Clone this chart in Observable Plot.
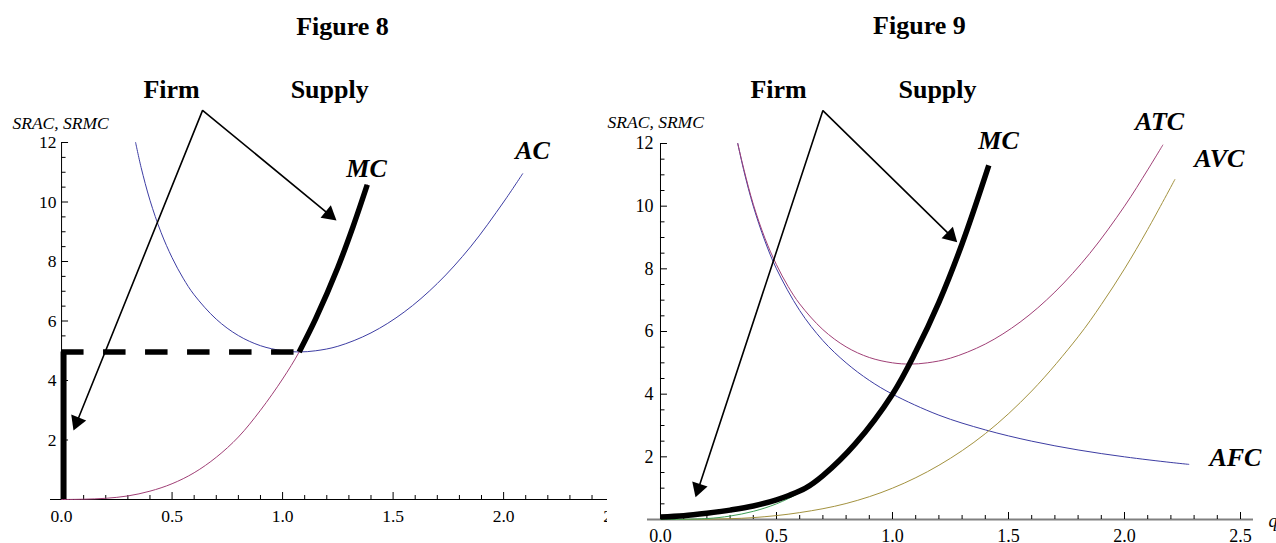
<!DOCTYPE html>
<html>
<head>
<meta charset="utf-8">
<script src="https://cdn.jsdelivr.net/npm/d3@7"></script>
<script src="https://cdn.jsdelivr.net/npm/@observablehq/plot@0.6"></script>
<style>
  html, body { margin: 0; padding: 0; background: #fff; }
  #wrap { position: relative; width: 1276px; height: 543px; overflow: hidden; background: #fff; }
  .panel { position: absolute; top: 0; }
</style>
</head>
<body>
<div id="wrap">
  <div id="p8" class="panel" style="left:0px;width:607px"></div>
  <div id="p9" class="panel" style="left:607px;width:669px"></div>
</div>
<script>
// ---------------- Figure 8 data ----------------
const ac8Q = [0.335, 0.36, 0.4, 0.45, 0.5, 0.55, 0.6, 0.7, 0.8, 0.9, 1.0, 1.075, 1.15, 1.25, 1.4, 1.55, 1.7, 1.85, 2.0, 2.086];
const ac8V = [12.0, 11.16, 10.06, 8.98, 8.13, 7.44, 6.88, 6.06, 5.51, 5.17, 5.0, 4.96, 5.0, 5.15, 5.6, 6.3, 7.26, 8.49, 10.0, 10.95];
const mc8Q = [0, 0.1, 0.2, 0.3, 0.4, 0.5, 0.6, 0.7, 0.8, 0.9, 1.0, 1.075, 1.15, 1.25, 1.32, 1.383];
const mc8V = [0, 0.01, 0.04, 0.12, 0.28, 0.53, 0.9, 1.42, 2.1, 3.0, 4.05, 4.96, 6.08, 7.8, 9.2, 10.58];
const supply8Q = [1.075, 1.15, 1.25, 1.32, 1.383];
const supply8V = [4.96, 6.08, 7.8, 9.2, 10.58];
const shutdownPrice8 = 4.96;   // min AC
const shutdownQ8 = 1.075;
const arrowApex8 = [0.638, 13.08];
const arrowTips8 = [[0.054, 2.32], [1.244, 9.38]];
const titleText8 = ["Figure 8", "Firm", "Supply"];
const titleQ8 = [1.271, 0.498, 1.213];
const titleV8 = [15.63, 13.48, 13.48];
const curveText8 = ["MC", "AC"];
const curveQ8 = [1.38, 2.131];
const curveV8 = [10.84, 11.43];

// ---------------- Figure 9 data ----------------
const atc9Q = [0.333, 0.36, 0.4, 0.45, 0.5, 0.55, 0.6, 0.7, 0.8, 0.9, 1.0, 1.075, 1.15, 1.25, 1.4, 1.55, 1.7, 1.85, 2.0, 2.1, 2.165];
const atc9V = [12.0, 11.16, 10.06, 8.98, 8.13, 7.44, 6.88, 6.06, 5.51, 5.17, 5.0, 4.96, 5.0, 5.15, 5.6, 6.3, 7.26, 8.49, 10.0, 11.16, 11.95];
const afc9Q = [0.333, 0.36, 0.4, 0.45, 0.5, 0.6, 0.7, 0.8, 0.9, 1.0, 1.2, 1.4, 1.6, 1.8, 2.0, 2.2, 2.277];
const afc9V = [12.0, 11.11, 10.0, 8.89, 8.0, 6.67, 5.71, 5.0, 4.44, 4.0, 3.33, 2.86, 2.5, 2.22, 2.0, 1.82, 1.76];
const avc9Q = [0, 0.2, 0.4, 0.6, 0.8, 1.0, 1.2, 1.4, 1.6, 1.8, 1.9, 2.0, 2.1, 2.217];
const avc9V = [0, 0.01, 0.06, 0.22, 0.51, 1.0, 1.73, 2.74, 4.1, 5.83, 6.86, 8.0, 9.26, 10.85];
const mc9Q = [0, 0.2, 0.3, 0.4, 0.5, 0.6, 0.7, 0.8, 0.9, 1.0, 1.1, 1.2, 1.3, 1.41];
const mc9V = [0, 0.03, 0.11, 0.26, 0.5, 0.86, 1.37, 2.05, 2.92, 4.0, 5.32, 6.91, 8.79, 11.21];
const supply9Q = [0, 0.1, 0.2, 0.3, 0.4, 0.5, 0.55, 0.625, 0.7, 0.84, 1.0, 1.1, 1.2, 1.3, 1.415];
const supply9V = [0.08, 0.12, 0.2, 0.3, 0.43, 0.63, 0.76, 1.0, 1.4, 2.42, 4.0, 5.35, 6.93, 8.8, 11.3];
const arrowApex9 = [0.7, 13.05];
const arrowTips9 = [[0.151, 0.71], [1.279, 8.85]];
const titleText9 = ["Figure 9", "Firm", "Supply"];
const titleQ9 = [1.116, 0.509, 1.194];
const titleV9 = [15.48, 13.44, 13.44];
const curveText9 = ["MC", "ATC", "AVC", "AFC"];
const curveQ9 = [1.457, 2.151, 2.409, 2.478];
const curveV9 = [11.81, 12.43, 11.24, 1.72];

// ---------------- ticks ----------------
const xMajor = [0, 0.5, 1, 1.5, 2, 2.5];
const xMajorText = ["0.0", "0.5", "1.0", "1.5", "2.0", "2.5"];
const xMinor = [0.1, 0.2, 0.3, 0.4, 0.6, 0.7, 0.8, 0.9, 1.1, 1.2, 1.3, 1.4, 1.6, 1.7, 1.8, 1.9, 2.1, 2.2, 2.3, 2.4];
const yMajor = [2, 4, 6, 8, 10, 12];
const yMinor = [0.5, 1, 1.5, 2.5, 3, 3.5, 4.5, 5, 5.5, 6.5, 7, 7.5, 8.5, 9, 9.5, 10.5, 11, 11.5];
const yAxisTitle = "SRAC, SRMC";
const xAxisTitle = "q";

// ---------------- colours ----------------
const BLUE = "#3d3da3", MAROON = "#a03f76", OLIVE = "#a3923f", GREEN = "#3d9f55";
const FONT = "'Liberation Serif', 'Times New Roman', serif";

const pts = (q, v) => q.map((d, i) => ({q: d, v: v[i]}));

function axisMarks(o) {
  return [
    Plot.ruleY([0], {stroke: o.xAxisColor, strokeWidth: o.xAxisWidth}),
    Plot.ruleX([0], {y1: 0, y2: 12, stroke: "black", strokeWidth: 1}),
    Plot.ruleX(xMinor, {x: d => d, y1: 0, y2: 0, insetBottom: 4, stroke: "black", strokeWidth: 1}),
    Plot.ruleX(xMajor, {x: d => d, y1: 0, y2: 0, insetBottom: 7, stroke: "black", strokeWidth: 1}),
    Plot.ruleY(yMinor, {y: d => d, x1: 0, x2: 0, insetRight: -4.5, stroke: "black", strokeWidth: 1}),
    Plot.ruleY(yMajor, {y: d => d, x1: 0, x2: 0, insetRight: -7, stroke: "black", strokeWidth: 1}),
    Plot.text(xMajor, {x: d => d, y: 0, text: (d, i) => xMajorText[i], dy: 17, fontSize: o.fontSize, lineAnchor: "middle", fill: "black"}),
    Plot.text(yMajor, {x: 0, y: d => d, text: d => String(d), dx: o.yLabelDx, textAnchor: "end", fontSize: o.fontSize, lineAnchor: "middle", fill: "black"})
  ];
}

function arrowMarks(apex, tips, sx, sy) {
  const h = 14; // arrowhead length in px
  const heads = tips.map(t => {
    const x0 = sx(apex[0]), y0 = sy(apex[1]), x1 = sx(t[0]), y1 = sy(t[1]);
    const dx = x1 - x0, dy = y1 - y0, L = Math.hypot(dx, dy);
    const cx = x1 - dx / L * h * 2 / 3, cy = y1 - dy / L * h * 2 / 3;
    return {q: sx.invert(cx), v: sy.invert(cy), angle: Math.atan2(dx, -dy) * 180 / Math.PI};
  });
  const path = [heads[0], {q: apex[0], v: apex[1]}, heads[1]];
  return [
    Plot.line(path, {x: "q", y: "v", stroke: "black", strokeWidth: 1.6, strokeLinejoin: "miter"}),
    Plot.dot(heads, {x: "q", y: "v", symbol: "triangle", r: 6, fill: "black", stroke: "none", rotate: "angle"})
  ];
}

// ---------------- Figure 8 ----------------
{
  const W = 607, H = 543, mL = 50, mR = 0, mT = 142, mB = 44;
  const xd = [-0.05, 2.47];
  const sx = d3.scaleLinear(xd, [mL, W - mR]);
  const sy = d3.scaleLinear([0, 12], [H - mB, mT]);
  const p = Plot.plot({
    width: W, height: H, marginLeft: mL, marginRight: mR, marginTop: mT, marginBottom: mB,
    x: {domain: xd, axis: null},
    y: {domain: [0, 12], axis: null},
    style: {fontFamily: FONT, background: "transparent", overflow: "hidden"},
    marks: [
      ...axisMarks({xAxisColor: "black", xAxisWidth: 1, fontSize: 17.5, yLabelDx: -5}),
      Plot.line(pts(ac8Q, ac8V), {x: "q", y: "v", stroke: BLUE, strokeWidth: 1, curve: "catmull-rom"}),
      Plot.line(pts(mc8Q, mc8V), {x: "q", y: "v", stroke: MAROON, strokeWidth: 1, curve: "catmull-rom"}),
      Plot.line(pts(supply8Q, supply8V), {x: "q", y: "v", stroke: "black", strokeWidth: 5.5, curve: "catmull-rom", strokeLinecap: "butt"}),
      Plot.ruleX([0], {y1: 0, y2: shutdownPrice8, dx: 2, stroke: "black", strokeWidth: 6}),
      Plot.ruleY([shutdownPrice8], {x1: 0, x2: shutdownQ8, stroke: "black", strokeWidth: 5.5, strokeDasharray: "22.5,19.5"}),
      ...arrowMarks(arrowApex8, arrowTips8, sx, sy),
      Plot.text(titleText8, {x: (d, i) => titleQ8[i], y: (d, i) => titleV8[i], text: d => d, fontSize: 26, fontWeight: "bold", lineAnchor: "bottom", fill: "black"}),
      Plot.text(curveText8, {x: (d, i) => curveQ8[i], y: (d, i) => curveV8[i], text: d => d, fontSize: 26, fontWeight: "bold", fontStyle: "italic", lineAnchor: "bottom", fill: "black"}),
      Plot.text([yAxisTitle], {x: -0.222, y: 12.47, text: d => d, fontSize: 17.5, fontStyle: "italic", textAnchor: "start", lineAnchor: "bottom", fill: "black"})
    ]
  });
  document.getElementById("p8").appendChild(p);
}

// ---------------- Figure 9 ----------------
{
  const W = 669, H = 543, mL = 40, mR = 23, mT = 143, mB = 24;
  const xd = [-0.056, 2.556];
  const sx = d3.scaleLinear(xd, [mL, W - mR]);
  const sy = d3.scaleLinear([0, 12], [H - mB, mT]);
  const p = Plot.plot({
    width: W, height: H, marginLeft: mL, marginRight: mR, marginTop: mT, marginBottom: mB,
    x: {domain: xd, axis: null},
    y: {domain: [0, 12], axis: null},
    style: {fontFamily: FONT, background: "transparent", overflow: "hidden"},
    marks: [
      ...axisMarks({xAxisColor: "#808080", xAxisWidth: 2, fontSize: 18, yLabelDx: -7}),
      Plot.line(pts(afc9Q, afc9V), {x: "q", y: "v", stroke: BLUE, strokeWidth: 1, curve: "catmull-rom"}),
      Plot.line(pts(atc9Q, atc9V), {x: "q", y: "v", stroke: MAROON, strokeWidth: 1, curve: "catmull-rom"}),
      Plot.line(pts(avc9Q, avc9V), {x: "q", y: "v", stroke: OLIVE, strokeWidth: 1, curve: "catmull-rom"}),
      Plot.line(pts(mc9Q, mc9V), {x: "q", y: "v", stroke: GREEN, strokeWidth: 1, curve: "catmull-rom"}),
      Plot.line(pts(supply9Q, supply9V), {x: "q", y: "v", stroke: "black", strokeWidth: 5.5, curve: "catmull-rom", strokeLinecap: "butt"}),
      ...arrowMarks(arrowApex9, arrowTips9, sx, sy),
      Plot.text(titleText9, {x: (d, i) => titleQ9[i], y: (d, i) => titleV9[i], text: d => d, fontSize: 26, fontWeight: "bold", lineAnchor: "bottom", fill: "black"}),
      Plot.text(curveText9, {x: (d, i) => curveQ9[i], y: (d, i) => curveV9[i], text: d => d, fontSize: 26, fontWeight: "bold", fontStyle: "italic", lineAnchor: "bottom", fill: "black"}),
      Plot.text([yAxisTitle], {x: -0.228, y: 12.48, text: d => d, fontSize: 17.5, fontStyle: "italic", textAnchor: "start", lineAnchor: "bottom", fill: "black"}),
      Plot.text([xAxisTitle], {x: 2.621, y: -0.06, text: d => d, fontSize: 18, fontStyle: "italic", textAnchor: "start", lineAnchor: "middle", fill: "black"})
    ]
  });
  document.getElementById("p9").appendChild(p);
}
</script>
</body>
</html>
